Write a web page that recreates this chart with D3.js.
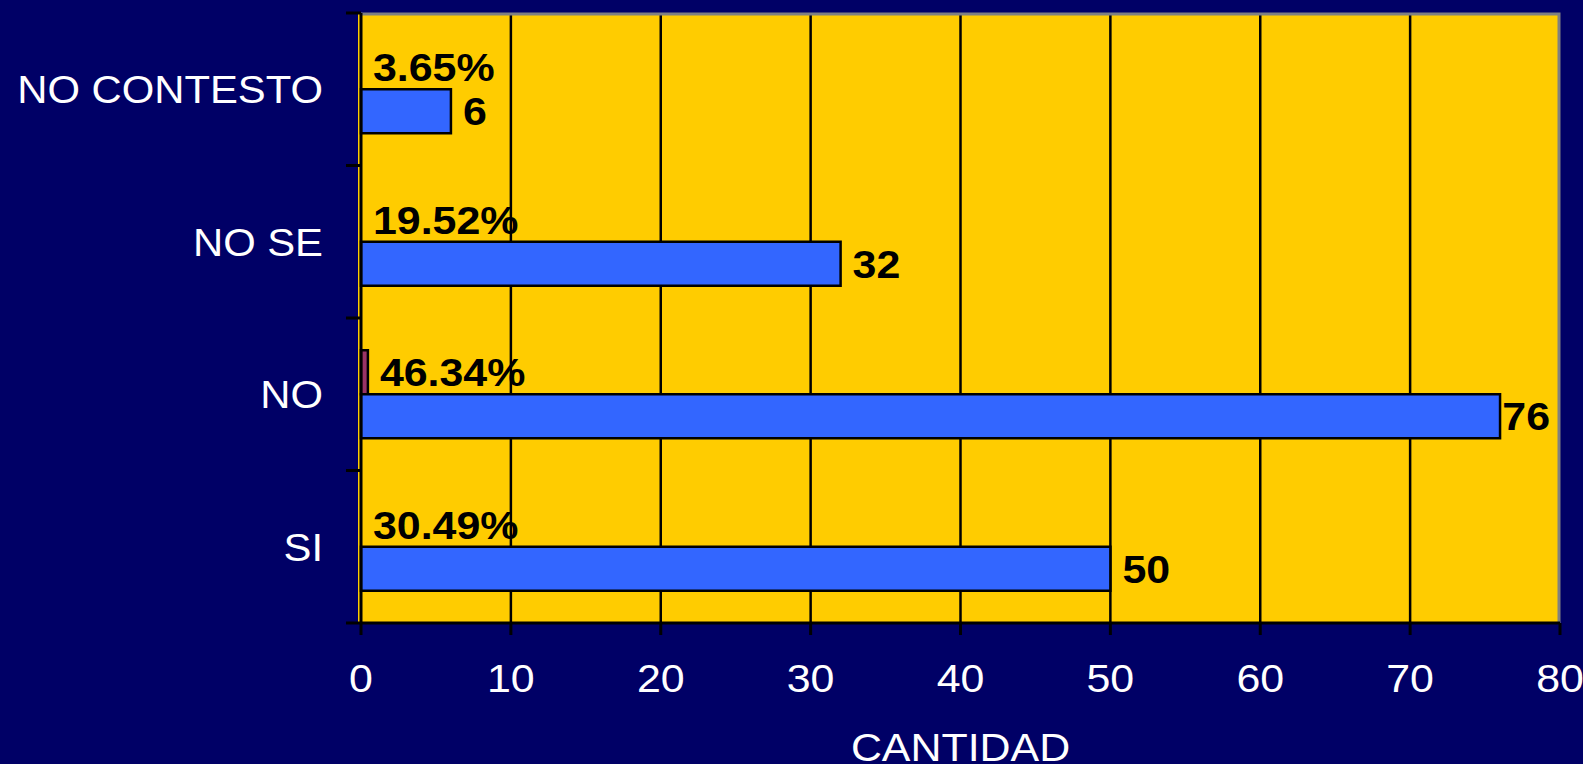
<!doctype html>
<html lang="es">
<head>
    <meta charset="UTF-8">
    <title>CANTIDAD</title>
    <script type="text/javascript" src="https://cdn.jsdelivr.net/npm/d3@7"></script>
    <style type="text/css">
        html, body {
            margin: 0;
            padding: 0;
            background-color: #000066;
            overflow: hidden;
        }

        text {
            font-family: "Liberation Sans", Arial, sans-serif;
        }
    </style>
</head>
<body>

<script type="text/javascript">
    var w = 1583;
    var h = 764;

    // data (top to bottom)
    var categories = ["NO CONTESTO", "NO SE", "NO", "SI"];
    var counts = [6, 32, 76, 50];
    var percentLabels = ["3.65%", "19.52%", "46.34%", "30.49%"];
    // the percent series shows as a visible sliver only on "NO"
    var percentBars = [0, 0, 0.46, 0];
    var xTicks = [0, 10, 20, 30, 40, 50, 60, 70, 80];

    var plotLeft = 361, plotRight = 1560, plotTop = 13, plotBottom = 623;
    var stretch = 1.1;

    var x_scale = d3.scaleLinear().domain([0, 80]).range([plotLeft, plotRight]);
    var y_scale = d3.scaleBand().domain(categories).range([plotTop, plotBottom])
        .paddingInner(0.423).paddingOuter(0.2115);
    var sub_scale = d3.scaleBand().domain(["pct", "val"]).range([0, y_scale.bandwidth()]);
    var edge_scale = d3.scaleLinear().domain([0, categories.length]).range([plotTop, plotBottom]);

    var svg = d3.select("body").append("svg").attr("width", w).attr("height", h);

    // plot area
    svg.append("rect")
        .attr("x", plotLeft - 3).attr("y", plotTop)
        .attr("width", plotRight - plotLeft + 3).attr("height", plotBottom - plotTop)
        .attr("fill", "#FFCC00");

    // vertical gridlines
    svg.selectAll("line.grid")
        .data(xTicks.slice(1, -1))
        .enter()
        .append("line")
        .attr("class", "grid")
        .attr("x1", function (d) { return x_scale(d); })
        .attr("x2", function (d) { return x_scale(d); })
        .attr("y1", plotTop).attr("y2", plotBottom)
        .attr("stroke", "#000").attr("stroke-width", 2.5);

    // top and right border
    svg.append("path")
        .attr("d", "M" + plotLeft + "," + (plotTop + 1) + "H" + (plotRight - 1) + "V" + plotBottom)
        .attr("fill", "none").attr("stroke", "#808080").attr("stroke-width", 3);

    // percent series bars
    svg.selectAll("rect.pct")
        .data(percentBars.map(function (d, i) { return {c: categories[i], v: d}; })
            .filter(function (d) { return d.v > 0; }))
        .enter()
        .append("rect")
        .attr("class", "pct")
        .attr("x", x_scale(0))
        .attr("y", function (d) { return y_scale(d.c) + sub_scale("pct"); })
        .attr("width", function (d) { return x_scale(d.v) - x_scale(0); })
        .attr("height", sub_scale.bandwidth())
        .attr("fill", "#993366").attr("stroke", "#000").attr("stroke-width", 2.5);

    // count bars
    svg.selectAll("rect.val")
        .data(counts)
        .enter()
        .append("rect")
        .attr("class", "val")
        .attr("x", x_scale(0))
        .attr("y", function (d, i) { return y_scale(categories[i]) + sub_scale("val"); })
        .attr("width", function (d) { return x_scale(d) - x_scale(0); })
        .attr("height", sub_scale.bandwidth())
        .attr("fill", "#3366FF").attr("stroke", "#000").attr("stroke-width", 2.5);

    // axes
    svg.append("line")
        .attr("x1", plotLeft).attr("x2", plotLeft).attr("y1", plotTop).attr("y2", plotBottom + 1)
        .attr("stroke", "#000").attr("stroke-width", 3);
    svg.append("line")
        .attr("x1", plotLeft - 1).attr("x2", plotRight).attr("y1", plotBottom).attr("y2", plotBottom)
        .attr("stroke", "#000").attr("stroke-width", 3);

    svg.selectAll("line.ytick")
        .data(d3.range(categories.length + 1))
        .enter()
        .append("line")
        .attr("class", "ytick")
        .attr("x1", plotLeft - 15).attr("x2", plotLeft)
        .attr("y1", function (d) { return edge_scale(d); })
        .attr("y2", function (d) { return edge_scale(d); })
        .attr("stroke", "#000").attr("stroke-width", 3);

    svg.selectAll("line.xtick")
        .data(xTicks)
        .enter()
        .append("line")
        .attr("class", "xtick")
        .attr("x1", function (d) { return x_scale(d); })
        .attr("x2", function (d) { return x_scale(d); })
        .attr("y1", plotBottom).attr("y2", plotBottom + 12)
        .attr("stroke", "#000").attr("stroke-width", 3);

    function addText(x, y, str, size, weight, color, anchor) {
        return svg.append("text")
            .attr("transform", "translate(" + x + "," + y + ") scale(" + stretch + ",1)")
            .attr("text-anchor", anchor)
            .attr("font-size", size + "px")
            .attr("font-weight", weight)
            .attr("fill", color)
            .text(str);
    }

    // category labels, centred on each band
    categories.forEach(function (c) {
        addText(323, y_scale(c) + y_scale.bandwidth() / 2 + 14, c, 38, "normal", "#fff", "end");
    });

    // x tick labels
    xTicks.forEach(function (t) {
        addText(x_scale(t), 692, t, 39, "normal", "#fff", "middle");
    });

    addText((plotLeft + plotRight) / 2, 761, "CANTIDAD", 39, "normal", "#fff", "middle");

    // percent labels
    percentLabels.forEach(function (p, i) {
        var cy = y_scale(categories[i]) + sub_scale("pct") + sub_scale.bandwidth() / 2;
        addText(x_scale(percentBars[i]) + 12, cy + 14, p, 39, "bold", "#000", "start");
    });

    // count labels
    counts.forEach(function (v, i) {
        var cy = y_scale(categories[i]) + sub_scale("val") + sub_scale.bandwidth() / 2;
        var t = addText(0, 0, v, 39, "bold", "#000", "start");
        var tw = t.node().getComputedTextLength() * stretch;
        var tx = Math.min(x_scale(v) + 12, plotRight - 10 - tw);
        t.attr("transform", "translate(" + tx + "," + (cy + 14) + ") scale(" + stretch + ",1)");
    });
</script>

</body>
</html>
